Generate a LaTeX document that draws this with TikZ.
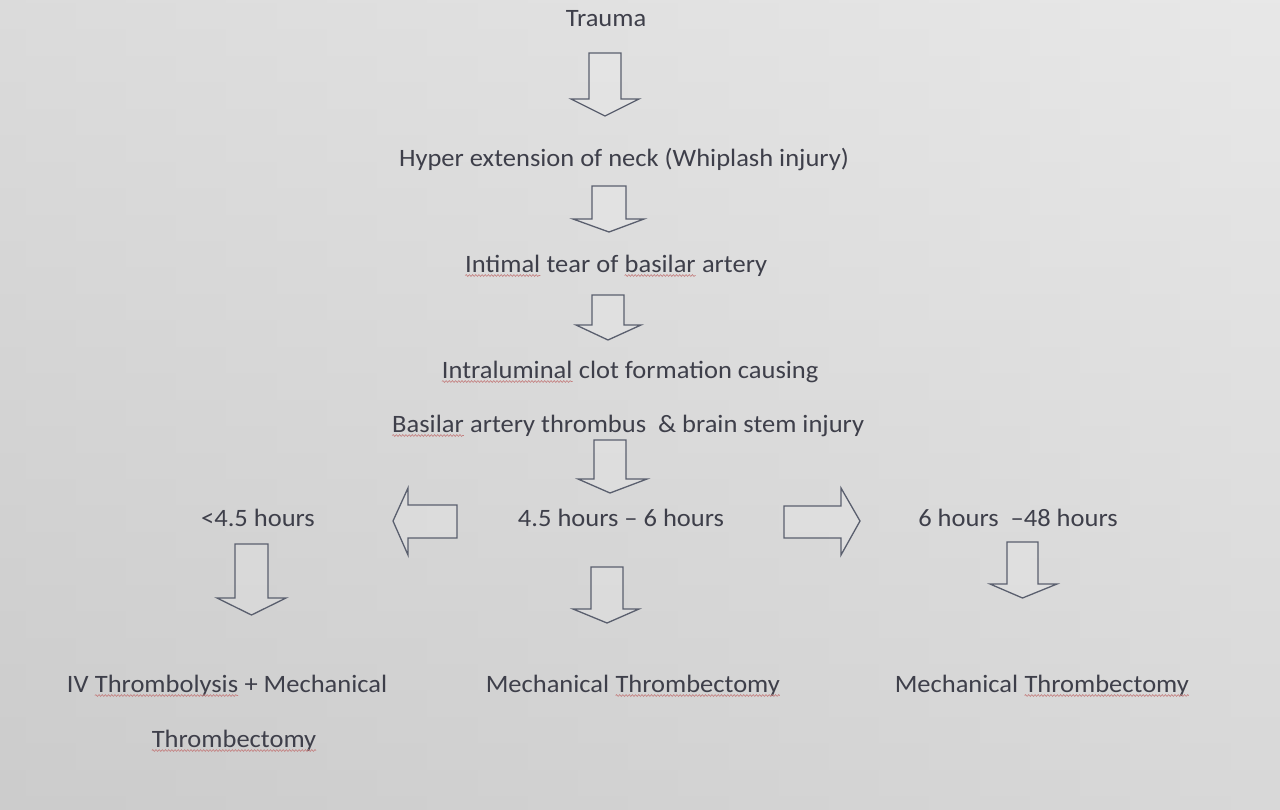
\documentclass[tikz,border=0pt]{standalone}
\usepackage{fontspec}
\setmainfont{Carlito}
\usetikzlibrary{decorations.pathmorphing}
\definecolor{txt}{HTML}{3E3F4A}
\definecolor{arr}{HTML}{5A5F6E}
\definecolor{sq}{HTML}{C47F7F}
\newcommand\wide[1]{\scalebox{1.06}[1]{#1}}
\tikzset{
  lbl/.style={anchor=base, inner sep=0pt, text=txt, font=\fontsize{25}{30}\selectfont},
  blockarrow/.style={draw=arr, line width=1.3pt, line join=miter, fill=white, fill opacity=0.15},
  squig/.style={draw=sq, line width=0.6pt, decorate, decoration={snake, amplitude=0.9pt, segment length=3pt}}
}
\newcommand\sqw[1]{\tikz[baseline=(w.base)]{\node[inner sep=0pt,outer sep=0pt,anchor=base](w){#1};\draw[squig] ([yshift=-3.5pt]w.base west) -- ([yshift=-3.5pt]w.base east);}}
% down block arrow: xl xr ytop yhead hl hr ytip
\newcommand\darr[7]{\draw[blockarrow] (#1,#3) -- (#2,#3) -- (#2,#4) -- (#6,#4) -- ({(#1+#2)/2},#7) -- (#5,#4) -- (#1,#4) -- cycle;}
\begin{document}
\begin{tikzpicture}[x=1pt,y=-1pt]
\useasboundingbox (0,0) rectangle (1280,809);
\shade[left color=black!20, right color=black!10] (0,0) rectangle (1280,809);
\shade[top color=black!8, bottom color=black!20, opacity=0.5] (0,0) rectangle (1280,809);

\node[lbl] (t1) at (606,26) {\wide{Trauma}};
\node[lbl] (t2) at (624,166) {\wide{Hyper extension of neck (Whiplash injury)}};
\node[lbl] (t3) at (616,272) {\wide{\sqw{Intimal} tear of \sqw{basilar} artery}};
\node[lbl] (t4) at (630,378) {\wide{\sqw{Intraluminal} clot formation causing}};
\node[lbl] (t5) at (628,432) {\wide{\sqw{Basilar} artery thrombus \ \& brain stem injury}};
\node[lbl] (l1) at (258,526) {\wide{<4.5 hours}};
\node[lbl] (m1) at (621,526) {\wide{4.5 hours -- 6 hours}};
\node[lbl] (r1) at (1018,526) {\wide{6 hours \ --48 hours}};
\node[lbl] (l2) at (227,692) {\wide{IV \sqw{Thrombolysis} + Mechanical}};
\node[lbl] (l3) at (234,747) {\wide{\sqw{Thrombectomy}}};
\node[lbl] (m2) at (633,692) {\wide{Mechanical \sqw{Thrombectomy}}};
\node[lbl] (r2) at (1042,692) {\wide{Mechanical \sqw{Thrombectomy}}};

\darr{589}{621}{53}{99}{571}{639}{116}
\darr{592}{626}{186}{219}{573}{644}{232}
\darr{592}{624}{295}{325}{576}{641}{340}
\darr{594}{626}{440}{479}{578}{647}{493}
\darr{591}{623}{567}{609}{573}{639}{623}
\darr{235}{268}{544}{598}{217}{286}{615}
\darr{1007}{1038}{542}{584}{990}{1057}{598}
% left and right block arrows
\draw[blockarrow] (457,505) -- (457,538) -- (408,538) -- (408,555) -- (393,521) -- (408,488) -- (408,505) -- cycle;
\draw[blockarrow] (784,506) -- (784,538) -- (841,538) -- (841,555) -- (860,521) -- (841,488) -- (841,506) -- cycle;
\end{tikzpicture}
\end{document}
